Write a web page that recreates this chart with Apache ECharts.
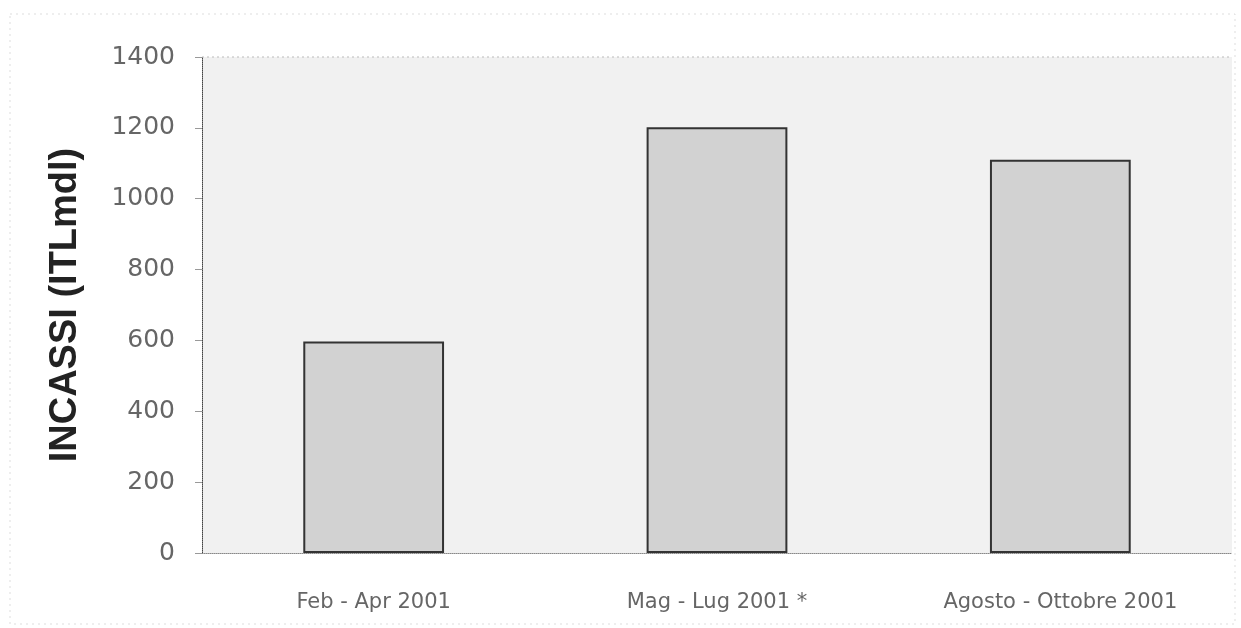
<!DOCTYPE html>
<html style="height: 100%">
<head>
<meta charset="utf-8">
<script src="https://cdn.jsdelivr.net/npm/echarts@6/dist/echarts.min.js"></script>
</head>
<body style="height: 100%; margin: 0; background: #fff">
<div id="container" style="width:1241px; height:628px"></div>
<script type="text/javascript">
// periodi e incassi (ITL mld)
var categories = ['Feb - Apr 2001', 'Mag - Lug 2001 *', 'Agosto - Ottobre 2001'];
var incassi = [597, 1202, 1110];
var yTicks = [0, 200, 400, 600, 800, 1000, 1200, 1400];

var myChart = echarts.init(document.getElementById('container'));

var option = {
    backgroundColor: '#fff',
    animation: false,
    grid: {
        left: 202,
        right: 9,
        top: 57,
        bottom: 75,
        show: true,
        backgroundColor: '#f1f1f1',
        borderWidth: 0
    },
    xAxis: {
        type: 'category',
        data: categories,
        axisLine: {lineStyle: {color: '#888', type: 'dotted', width: 1}},
        axisTick: {show: false},
        axisLabel: {
            color: '#666',
            fontFamily: 'DejaVu Sans',
            fontSize: 21,
            margin: 39
        }
    },
    yAxis: {
        type: 'value',
        min: yTicks[0],
        max: yTicks[yTicks.length - 1],
        interval: 200,
        name: 'INCASSI (ITLmdl)',
        nameLocation: 'middle',
        nameGap: 117,
        nameTextStyle: {
            color: '#222',
            fontFamily: 'Liberation Sans',
            fontWeight: 'bold',
            fontSize: 38
        },
        axisLine: {show: true, lineStyle: {color: '#444', type: 'dotted', width: 1}},
        axisTick: {show: true, length: 7, lineStyle: {color: '#999'}},
        splitLine: {show: false},
        axisLabel: {
            color: '#666',
            fontFamily: 'DejaVu Sans',
            fontSize: 25,
            margin: 27,
            formatter: function (v) { return String(v); }
        }
    },
    series: [{
        type: 'bar',
        data: incassi,
        barWidth: '41%',
        itemStyle: {
            color: '#d2d2d2',
            borderColor: '#333',
            borderWidth: 2
        }
    }],
    graphic: [{
        type: 'line',
        shape: {x1: 202, y1: 57, x2: 1232, y2: 57},
        style: {stroke: '#bbb', lineDash: [2, 3], lineWidth: 1}
    }, {
        type: 'rect',
        shape: {x: 10, y: 14, width: 1225, height: 610},
        style: {fill: 'none', stroke: '#ddd', lineDash: [2, 4], lineWidth: 1}
    }]
};
myChart.setOption(option, true);
</script>
</body>
</html>
